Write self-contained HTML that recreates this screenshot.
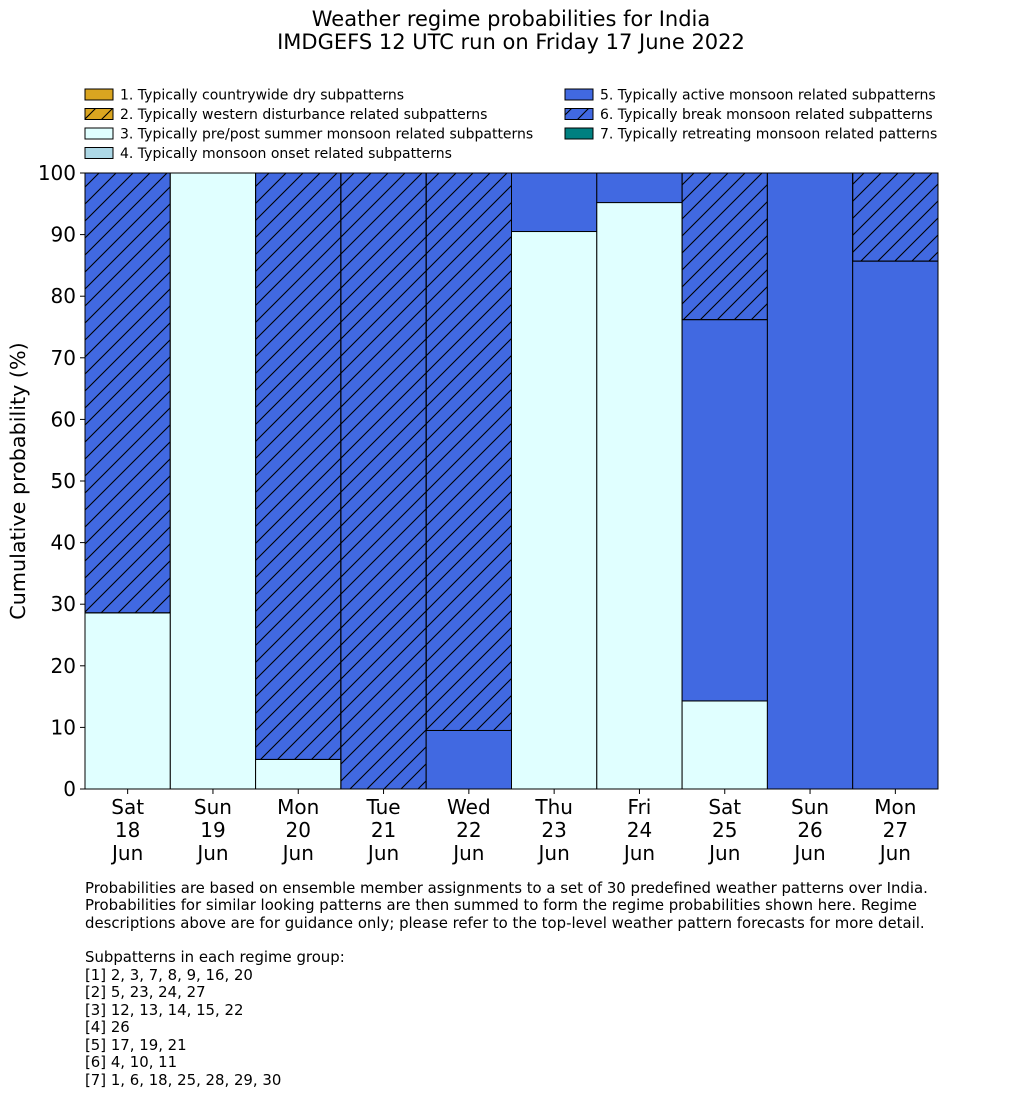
<!DOCTYPE html>
<html><head><meta charset="utf-8">
<style>
body{margin:0;background:#fff;}
svg{display:block;font-family:"DejaVu Sans","Liberation Sans",sans-serif;}
</style></head>
<body>
<svg id="chart" width="1033" height="1114" viewBox="0 0 1033 1114">
<defs>
<pattern id="hatch" patternUnits="userSpaceOnUse" width="17" height="17">
<path d="M-4,4 L4,-4 M0,17 L17,0 M13,21 L21,13" stroke="#000" stroke-width="1.1"/>
</pattern>
</defs>
<text x="511" y="26" font-size="21" text-anchor="middle">Weather regime probabilities for India</text>
<text x="511" y="49" font-size="21" text-anchor="middle">IMDGEFS 12 UTC run on Friday 17 June 2022</text>
<g id="legend"></g>
<g id="bars"></g>
<g id="axes"></g>
<text transform="translate(25,481) rotate(-90)" font-size="20.7" text-anchor="middle">Cumulative probability (%)</text>
<g font-size="14.9">
<text x="85" y="893">Probabilities are based on ensemble member assignments to a set of 30 predefined weather patterns over India.</text>
<text x="85" y="910">Probabilities for similar looking patterns are then summed to form the regime probabilities shown here. Regime</text>
<text x="85" y="928">descriptions above are for guidance only; please refer to the top-level weather pattern forecasts for more detail.</text>
<text x="85" y="962">Subpatterns in each regime group:</text>
<text x="85" y="980">[1] 2, 3, 7, 8, 9, 16, 20</text>
<text x="85" y="997">[2] 5, 23, 24, 27</text>
<text x="85" y="1015">[3] 12, 13, 14, 15, 22</text>
<text x="85" y="1032">[4] 26</text>
<text x="85" y="1050">[5] 17, 19, 21</text>
<text x="85" y="1067">[6] 4, 10, 11</text>
<text x="85" y="1085">[7] 1, 6, 18, 25, 28, 29, 30</text>
</g>
</svg>
<script>
const days = ["Sat","Sun","Mon","Tue","Wed","Thu","Fri","Sat","Sun","Mon"];
const dates = ["18","19","20","21","22","23","24","25","26","27"];
const regimes = ["1. Typically countrywide dry subpatterns","2. Typically western disturbance related subpatterns","3. Typically pre/post summer monsoon related subpatterns","4. Typically monsoon onset related subpatterns","5. Typically active monsoon related subpatterns","6. Typically break monsoon related subpatterns","7. Typically retreating monsoon related patterns"];
const colors = ["#DAA520","#DAA520","#E0FFFF","#ADD8E6","#4169E1","#4169E1","#008080"];
const hatched = [false,true,false,false,false,true,false];
const r1 = [0,0,0,0,0,0,0,0,0,0];
const r2 = [0,0,0,0,0,0,0,0,0,0];
const r3 = [28.6,100,4.8,0,0,90.5,95.2,14.3,0,0];
const r4 = [0,0,0,0,0,0,0,0,0,0];
const r5 = [0,0,0,0,9.5,9.5,4.8,61.9,100,85.7];
const r6 = [71.4,0,95.2,100,90.5,0,0,23.8,0,14.3];
const r7 = [0,0,0,0,0,0,0,0,0,0];
const yTicks = [0,10,20,30,40,50,60,70,80,90,100];

const NS="http://www.w3.org/2000/svg";
const X0=85,X1=938,Y0=789,Y1=173;
const n=days.length, bw=(X1-X0)/n;
const xs=i=>X0+i*bw;
const ys=v=>Y0-(v/100)*(Y0-Y1);
function mk(tag,attrs,parent){const e=document.createElementNS(NS,tag);for(const k in attrs)e.setAttribute(k,attrs[k]);parent.appendChild(e);return e;}
const series=[r1,r2,r3,r4,r5,r6,r7];
const bars=document.getElementById('bars');
for(let i=0;i<n;i++){
  let cum=0;
  series.forEach((s,k)=>{
    const v=s[i]; if(v<=0)return;
    const r=mk('rect',{x:xs(i),y:ys(cum+v),width:bw,height:ys(cum)-ys(cum+v),fill:colors[k],stroke:'#000','stroke-width':1},bars);
    
    
    if(hatched[k]){
      const h=mk('rect',{x:xs(i),y:ys(cum+v),width:bw,height:ys(cum)-ys(cum+v),fill:'url(#hatch)',stroke:'#000','stroke-width':1},bars);
      
      
    }
    cum+=v;
  });
}
const ax=document.getElementById('axes');
mk('line',{x1:X0,y1:Y1,x2:X0,y2:Y0,stroke:'#000','stroke-width':1},ax);
mk('line',{x1:X0,y1:Y0,x2:X1,y2:Y0,stroke:'#000','stroke-width':1},ax);
yTicks.forEach(t=>{
  mk('line',{x1:X0-5,y1:ys(t),x2:X0,y2:ys(t),stroke:'#000'},ax);
  const tx=mk('text',{x:X0-9,y:ys(t)+7,'font-size':20,'text-anchor':'end'},ax);
  tx.textContent=t;
  
  
});
for(let i=0;i<n;i++){
  const cx=xs(i)+bw/2;
  mk('line',{x1:cx,y1:Y0,x2:cx,y2:Y0+5,stroke:'#000'},ax);
  [days[i],dates[i],"Jun"].forEach((s,j)=>{
    const tx=mk('text',{x:cx,y:814+j*23,'font-size':20,'text-anchor':'middle'},ax);
    tx.textContent=s;
    
    
  });
}
const lg=document.getElementById('legend');
regimes.forEach((s,k)=>{
  const col=k<4?0:1, row=k<4?k:k-4;
  const sx=col?565:85, sy=89+row*19.5;
  const g=mk('g',{},lg);
  
  
  mk('rect',{x:sx,y:sy,width:28,height:11,fill:colors[k],stroke:'#000'},g);
  if(hatched[k]) mk('rect',{x:sx,y:sy,width:28,height:11,fill:'url(#hatch)',stroke:'#000'},g);
  const tx=mk('text',{x:sx+35,y:sy+10.5,'font-size':14},g);
  tx.textContent=s;
});
</script>
</body></html>
